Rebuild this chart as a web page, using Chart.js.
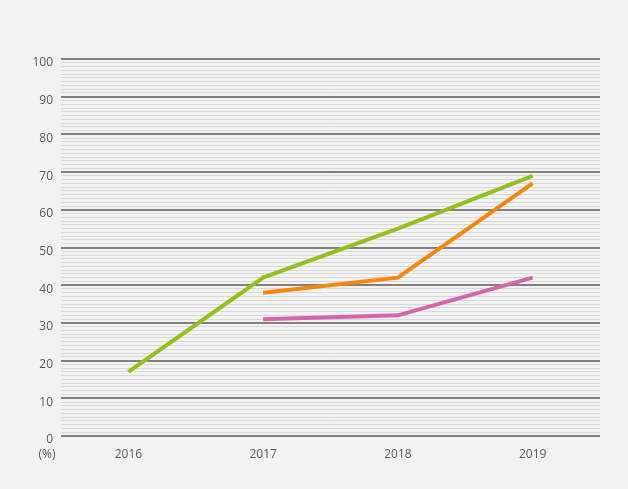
<!DOCTYPE html>
<html>
<head>
<meta charset="utf-8">
<script src="https://cdn.jsdelivr.net/npm/chart.js@4/dist/chart.umd.min.js"></script>
<style>
  html, body { margin: 0; padding: 0; background: #f2f2f2; }
  #wrap { width: 628px; height: 489px; }
</style>
</head>
<body>
<div id="wrap"><canvas id="myChart" width="628" height="489"></canvas></div>
<script>
var anni = ['2016', '2017', '2018', '2019'];
var serieVerde = [17, 42, 55, 69];
var serieArancio = [null, 38, 42, 67];
var serieRosa = [null, 31, 32, 42];
var yMin = 0, yMax = 100, yPasso = 1, yEtichetta = 10;
var unita = '(%)';

// scrive "(%)" sotto lo zero dell'asse y
var etichettaUnita = {
  id: 'etichettaUnita',
  afterDraw: function(chart) {
    var ctx = chart.ctx;
    var y = chart.scales.y;
    ctx.save();
    ctx.fillStyle = '#595959';
    ctx.font = '12px "Open Sans"';
    ctx.textAlign = 'center';
    ctx.textBaseline = 'middle';
    ctx.fillText(unita, 47, y.getPixelForValue(0) + 19);
    ctx.restore();
  }
};

var ctx = document.getElementById('myChart').getContext('2d');
var chart = new Chart(ctx, {
  type: 'line',
  data: {
    labels: anni,
    datasets: [
      { data: serieVerde, borderColor: '#92c11f', borderWidth: 4 },
      { data: serieArancio, borderColor: '#f5880c', borderWidth: 4 },
      { data: serieRosa, borderColor: '#d564a8', borderWidth: 4 }
    ]
  },
  options: {
    responsive: false,
    animation: false,
    layout: { padding: { top: 59, right: 28, bottom: 23, left: 0 } },
    elements: { point: { radius: 0 }, line: { tension: 0 } },
    plugins: { legend: { display: false }, tooltip: { enabled: false } },
    scales: {
      x: {
        offset: true,
        grid: { display: false, drawTicks: false },
        border: { display: false },
        ticks: { color: '#595959', font: { family: 'Open Sans', size: 12 }, padding: 11 },
        afterFit: function(s) { s.height = 30; }
      },
      y: {
        min: yMin,
        max: yMax,
        grid: {
          drawTicks: false,
          color: function(c) { return c.tick.value % yEtichetta === 0 ? '#808080' : '#d9d9d9'; },
          lineWidth: function(c) { return c.tick.value % yEtichetta === 0 ? 2 : 1; }
        },
        border: { display: false },
        ticks: {
          stepSize: yPasso,
          autoSkip: false,
          padding: 8,
          labelOffset: 4,
          color: '#595959',
          font: { family: 'Open Sans', size: 12 },
          callback: function(v) { return v % yEtichetta === 0 ? v : ''; }
        },
        afterFit: function(s) { s.width = 61; }
      }
    }
  },
  plugins: [etichettaUnita]
});
</script>
</body>
</html>
